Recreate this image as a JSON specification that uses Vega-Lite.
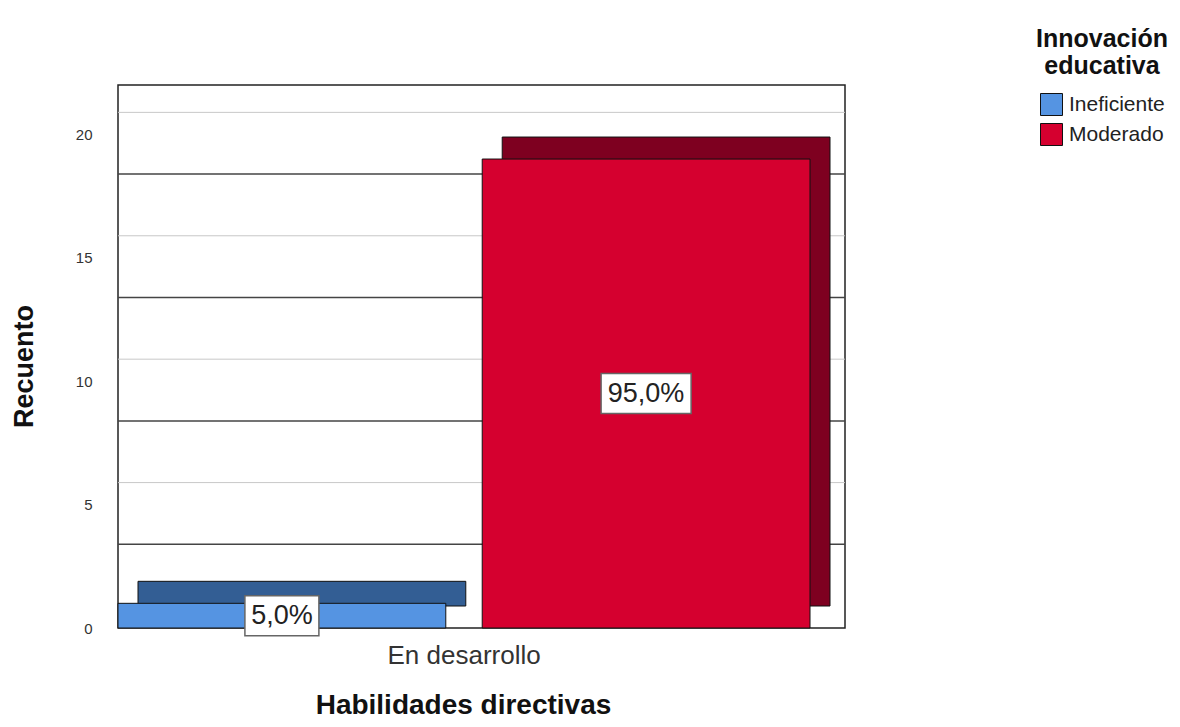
{
  "$schema": "https://vega.github.io/schema/vega-lite/v6.json",
  "autosize": {"type": "none"},
  "padding": {"left": 118, "top": 85, "right": 335, "bottom": 99},
  "width": 727,
  "height": 543,
  "background": "white",
  "config": {
    "font": "Liberation Sans",
    "view": {"stroke": "#222", "strokeWidth": 1.5}
  },
  "data": {
    "values": [
      {"Habilidades directivas": "En desarrollo", "Innovación educativa": "Ineficiente", "Recuento": 1, "Porcentaje": "5,0%"},
      {"Habilidades directivas": "En desarrollo", "Innovación educativa": "Moderado", "Recuento": 19, "Porcentaje": "95,0%"}
    ]
  },
  "encoding": {
    "x": {
      "field": "Innovación educativa",
      "type": "nominal",
      "scale": {"domain": ["Ineficiente", "Moderado"], "range": [0, 692], "paddingInner": 0.1, "paddingOuter": 0},
      "axis": {
        "title": "Habilidades directivas",
        "titleFontSize": 28,
        "titleFontWeight": "bold",
        "titleColor": "#111",
        "titlePadding": 23,
        "titleX": 345,
        "labelExpr": "datum.value == 'Moderado' ? 'En desarrollo' : ''",
        "labelOffset": -182,
        "labelFontSize": 26,
        "labelColor": "#333",
        "labelAngle": 0,
        "labelPadding": 14,
        "ticks": false,
        "domain": false
      }
    }
  },
  "layer": [
    {
      "mark": {"type": "rule", "color": "#c8c8c8", "strokeWidth": 1},
      "data": {"values": [{"v": 5}, {"v": 10}, {"v": 15}, {"v": 20}]},
      "encoding": {
        "x": {"value": 0},
        "x2": {"value": 727},
        "y": {
          "field": "v",
          "type": "quantitative",
          "scale": {"domain": [0, 22], "nice": false},
          "axis": {
            "title": "Recuento",
            "titleFontSize": 27,
            "titleFontWeight": "bold",
            "titleColor": "#111",
            "titlePadding": 37,
            "titleY": 281,
            "values": [0, 5, 10, 15, 20],
            "labelFontSize": 15,
            "labelColor": "#333",
            "labelPadding": 26,
            "ticks": false,
            "domain": false,
            "grid": false
          }
        },
        "yOffset": {"value": -22}
      }
    },
    {
      "mark": {"type": "rule", "color": "#444", "strokeWidth": 1.5},
      "data": {"values": [{"v": 2.5}, {"v": 7.5}, {"v": 12.5}, {"v": 17.5}]},
      "encoding": {
        "x": {"value": 0},
        "x2": {"value": 727},
        "y": {"field": "v", "type": "quantitative"},
        "yOffset": {"value": -22}
      }
    },
    {
      "transform": [{"calculate": "datum['Innovación educativa']", "as": "Tono"}],
      "mark": {"type": "bar", "xOffset": 20, "yOffset": -22, "stroke": "#111", "strokeWidth": 1},
      "encoding": {
        "y": {"field": "Recuento", "type": "quantitative"},
        "fill": {
          "field": "Tono",
          "type": "nominal",
          "scale": {"domain": ["Moderado", "Ineficiente"], "range": ["#7E0020", "#335E94"]},
          "legend": null
        }
      }
    },
    {
      "mark": {"type": "bar", "stroke": "#111", "strokeWidth": 1},
      "encoding": {
        "y": {"field": "Recuento", "type": "quantitative"},
        "color": {
          "field": "Innovación educativa",
          "type": "nominal",
          "scale": {"domain": ["Ineficiente", "Moderado"], "range": ["#5594E2", "#D5002F"]},
          "legend": {
            "title": ["Innovación", "educativa"],
            "titleFontSize": 25,
            "titleFontWeight": "bold",
            "titleColor": "#111",
            "titleAlign": "center",
            "titleAnchor": "middle",
            "titleLimit": 400,
            "titlePadding": 14,
            "labelFontSize": 21,
            "labelColor": "#222",
            "labelOffset": 6,
            "symbolType": "square",
            "symbolSize": 484,
            "symbolStrokeColor": "#111",
            "symbolStrokeWidth": 1,
            "rowPadding": 3,
            "orient": "none",
            "legendX": 918,
            "legendY": -58
          }
        }
      }
    },
    {
      "transform": [
        {"calculate": "datum.Recuento / 2", "as": "Mitad"},
        {"calculate": "datum['Innovación educativa']", "as": "Caja"}
      ],
      "mark": {"type": "point", "filled": true, "fill": "white", "stroke": "#666", "strokeWidth": 1.5, "opacity": 1, "size": 8100},
      "encoding": {
        "y": {"field": "Mitad", "type": "quantitative"},
        "shape": {
          "field": "Caja",
          "type": "nominal",
          "scale": {
            "domain": ["Moderado", "Ineficiente"],
            "range": [
              "M-1,-0.444 L1,-0.444 L1,0.444 L-1,0.444 Z",
              "M-0.822,-0.444 L0.822,-0.444 L0.822,0.444 L-0.822,0.444 Z"
            ]
          },
          "legend": null
        }
      }
    },
    {
      "transform": [{"calculate": "datum.Recuento / 2", "as": "Mitad"}],
      "mark": {"type": "text", "fontSize": 27, "color": "#222", "baseline": "middle", "align": "center"},
      "encoding": {
        "y": {"field": "Mitad", "type": "quantitative"},
        "text": {"field": "Porcentaje"}
      }
    }
  ]
}
